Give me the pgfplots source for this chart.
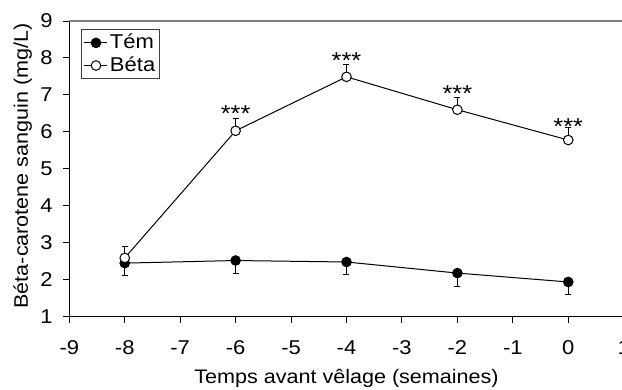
\documentclass[border=0pt]{standalone}
\usepackage{pgfplots}
\pgfplotsset{compat=1.18}
\usepackage{fontspec}
\setmainfont{Liberation Sans}[FakeStretch=1.1]

\pgfplotstableread{
x y e
-8 2.45 0.33
-6 2.52 0.34
-4 2.48 0.34
-2 2.18 0.35
0 1.94 0.34
}\tem
\pgfplotstableread{
x y e
-8 2.59 0.32
-6 6.03 0.34
-4 7.49 0.33
-2 6.60 0.33
0 5.78 0.34
}\beta

\begin{document}
\fontsize{19.6}{24}\selectfont
\begin{tikzpicture}
\begin{axis}[
  x=55.44pt, y=36.96pt,
  xmin=-9, xmax=1, ymin=1, ymax=9,
  axis line style={draw=none},
  xtick={-9,-8,...,1}, ytick={1,2,...,9},
  tick align=outside, xtick pos=left, ytick pos=left,
  major tick length=6pt,
  tick style={black, line width=1pt},
  /pgf/number format/assume math mode=true,
  tick label style={font=\fontsize{20}{24}\selectfont},
  xticklabel style={yshift=-11pt},
  yticklabel style={xshift=-4pt},
  label style={font=\fontsize{19.6}{24}\selectfont},
  xlabel={Temps avant vêlage (semaines)},
  ylabel={Béta-carotene sanguin (mg/L)},
  xlabel style={at={(axis description cs:0.5,0)}, anchor=base, yshift=-67pt},
  ylabel style={at={(axis description cs:0,0.5)}, anchor=base, yshift=41.3pt, xshift=3pt},
  legend style={at={(axis description cs:0,1)}, anchor=north west, xshift=11.7pt, yshift=-8pt,
    draw=black!75, line width=1pt, inner sep=2.5pt, row sep=1pt, font=\fontsize{20}{24}\selectfont},
  legend cell align=left,
  legend image code/.code={\draw[mark repeat=2,mark phase=2,#1] plot coordinates {(0pt,0pt) (11.5pt,0pt) (23pt,0pt)};},
  clip=false,
]
\addplot[black, line width=1pt, mark=*, mark size=4.8pt, mark options={fill=black, solid},
  error bars/.cd, y dir=minus, y explicit, error bar style={line width=1pt},
  error mark options={rotate=90, line width=1pt, mark size=3pt}]
  table[x=x, y=y, y error=e] {\tem};
\addlegendentry{Tém}
\addplot[black, line width=1pt, mark=*, mark size=4.8pt, mark options={fill=white, draw=black, solid},
  error bars/.cd, y dir=plus, y explicit, error bar style={line width=1pt},
  error mark options={rotate=90, line width=1pt, mark size=3pt}]
  table[x=x, y=y, y error=e] {\beta};
\addlegendentry{Béta}
\begin{scope}[every node/.style={anchor=base, font=\fontsize{23}{27}\selectfont, inner sep=0pt}]
\node at (axis cs:-6,6.29) {***};
\node at (axis cs:-4,7.71) {***};
\node at (axis cs:-2,6.82) {***};
\node at (axis cs:0,5.94) {***};
\end{scope}
\draw[black, line width=1pt] (rel axis cs:0,1) -- (rel axis cs:0,0) -- (rel axis cs:1,0);
\draw[black!50, line width=1.6pt] (rel axis cs:0,1) -- (rel axis cs:1,1);
\end{axis}
\pgfresetboundingbox
\useasboundingbox (-69.3pt,-72.3pt) rectangle (552.7pt,316.7pt);
\end{tikzpicture}
\end{document}
